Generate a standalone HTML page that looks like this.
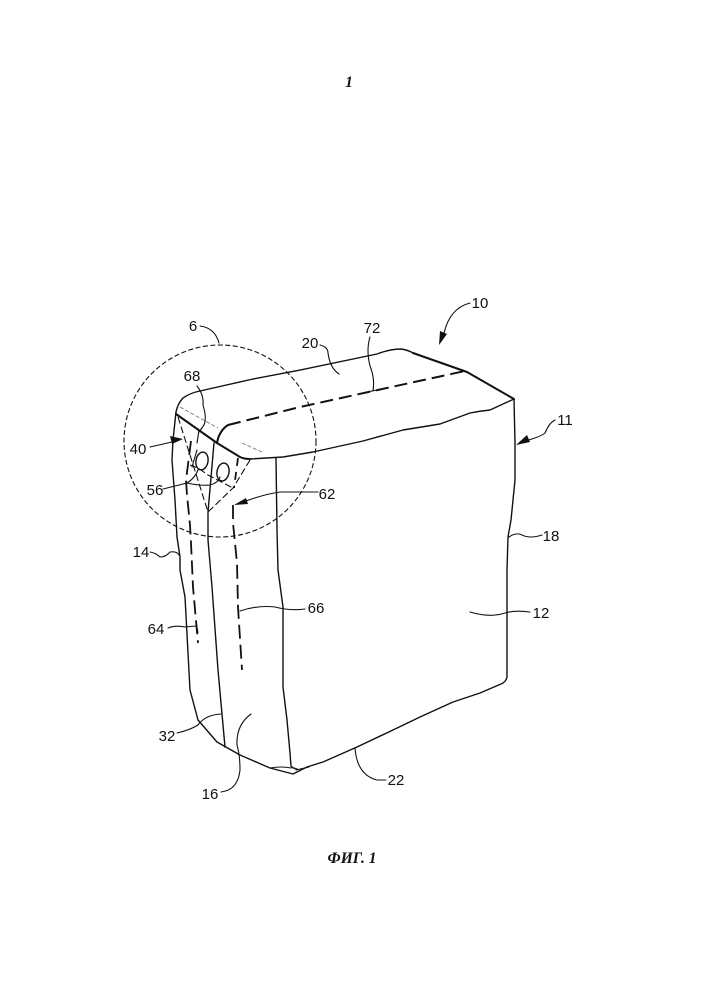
<!DOCTYPE html>
<html><head><meta charset="utf-8"><style>
html,body{margin:0;padding:0;background:#fff}
svg{display:block}
text{font-family:"Liberation Sans",sans-serif;font-size:15px;fill:#111;text-anchor:middle}
.t{font-family:"Liberation Serif",serif;font-style:italic;font-weight:bold;font-size:15.5px}
path{fill:none;stroke:#111;stroke-width:1.2;stroke-linejoin:round;stroke-linecap:round}
.o{stroke-width:1.4}
.b{stroke-width:2}
.d{stroke-width:2;stroke-dasharray:13 6;stroke-linecap:butt}
.c{stroke-width:1.1;stroke-dasharray:5 2.5;stroke-linecap:butt}
.s{stroke-width:1.8;stroke-dasharray:14 6;stroke-linecap:butt}
.f{stroke-width:1.1;stroke-dasharray:7 3;stroke-linecap:butt}
.g{stroke:#777;stroke-width:.9;stroke-dasharray:4 2;stroke-linecap:butt}
.l{stroke-width:1.1}
.a{fill:#111;stroke:none}
</style></head><body>
<svg width="706" height="1000" viewBox="0 0 706 1000" xmlns="http://www.w3.org/2000/svg">
<text class="t" x="349" y="87">1</text>
<text class="t" x="352" y="863">ФИГ. 1</text>

<!-- outlines -->
<path class="o" d="M176 412 Q178 403 183 398 Q190 393 200 391 L253 379 L300 370 L377 354 Q390 349 401 349 Q408 350 413 353"/>
<path class="b" d="M413 353 L467 372 L514 399"/>
<path class="b" d="M176 414 L217 443 L240 457 Q244 459 250 459"/>
<path class="o" d="M250 459 L283 457 L313 452 L363 441 L403 430 L440 424 L470 413 Q480 411 490 410 L514 399"/>
<path class="o" d="M514 399 L515 443 L515 480 L511 520 L508 537 L507 570 L507 630 L507 677 Q506 682 501 684 L480 693 L453 702 L420 717 L393 730 L357 747 L323 762 L307 767 L293 774 L270 768 L240 755 L217 742 L198 720 L190 690 L188 653 L185 597 L180 570 L180 557 L177 537 L175 500 L172 460 L173 440 L176 412"/>
<path class="o" d="M214 443 L208 512 L208 540 L212 587 L218 670 L225 747"/>
<path class="o" d="M276 458 L277 530 L278 570 L283 607 L283 687 L287 720 L290 753 L291 766 Q292 768 297 769"/>
<path class="l" d="M270 768 Q282 766 291 768 M296 770 L309 767"/>

<!-- dashed -->
<path class="b" d="M217 443 Q219 431 228 425"/>
<path class="d" d="M228 425 L300 407 L373 391 L465 371"/>
<path class="s" d="M191 441 L186 480 L187 495 L190 525 L191 543 L193 587 L198 643"/>
<path class="s" d="M233 505 L233 523 L237 563 L238 607 L242 670"/>
<path class="s" style="stroke-dasharray:8 6" d="M238 458 L234 488"/>
<path class="l" d="M199 430 L197 443 M197 450 L192 467"/>

<!-- inner corner fold lines -->
<path class="f" d="M178 417 L208 512 L233 488 L250 460"/>
<path class="f" d="M190 465 L198 468 L208 475 L233 488"/>
<path class="g" d="M180 407 L218 428 M242 443 L262 452"/>
<ellipse cx="202" cy="461" rx="6" ry="9" transform="rotate(10 202 461)" fill="none" stroke="#111" stroke-width="1.4"/>
<ellipse cx="223" cy="472" rx="6" ry="9" transform="rotate(10 223 472)" fill="none" stroke="#111" stroke-width="1.4"/>

<!-- detail circle -->
<circle class="c" cx="220" cy="441" r="96" fill="none" stroke="#111"/>

<!-- leaders -->
<path class="l" d="M200 326 Q215 328 219 343"/>
<path class="l" d="M197 386 Q204 395 203 405 Q207 418 204 425 L199 432"/>
<path class="l" d="M320 345 Q328 347 328 353 Q330 368 339 374"/>
<path class="l" d="M370 337 Q366 350 370 366 Q375 378 373 391"/>
<path class="l" d="M367 392 L377 390"/>
<path class="l" d="M470 303 Q450 308 444 333"/>
<path class="a" d="M439 345 L440 331 L447 334 Z"/>
<path class="l" d="M555 420 Q549 423 545 433 Q540 437 525 441"/>
<path class="a" d="M516 445 L527 435 L530 442 Z"/>
<path class="l" d="M150 447 L172 442"/>
<path class="a" d="M183 439 L170 436 L172 444 Z"/>
<path class="l" d="M163 489 L187 483 Q195 478 198 470 M187 483 Q200 486 210 485 Q218 483 220 477"/>
<path class="l" d="M318 492 L280 492 Q265 494 243 502"/>
<path class="a" d="M234 505 L246 498 L248 504 Z"/>
<path class="l" d="M150 552 Q156 553 160 557 Q166 557 170 552 Q177 551 179 555"/>
<path class="l" d="M509 537 Q516 532 522 535 Q530 539 542 535"/>
<path class="l" d="M168 628 Q175 625 185 627 L196 626"/>
<path class="l" d="M196 622 L198 633"/>
<path class="l" d="M305 609 Q290 611 275 607 Q258 605 240 611"/>
<path class="l" d="M530 612 Q515 610 505 613 Q490 618 470 612"/>
<path class="l" d="M177 733 Q190 730 198 725 Q205 715 221 714"/>
<path class="l" d="M221 792 Q238 790 240 770 Q240 755 237 745 Q236 725 251 714"/>
<path class="l" d="M355 748 Q357 775 377 780 L386 780"/>

<!-- labels -->
<text x="193" y="331">6</text>
<text x="192" y="381">68</text>
<text x="310" y="348">20</text>
<text x="372" y="333">72</text>
<text x="480" y="308">10</text>
<text x="565" y="425">11</text>
<text x="138" y="454">40</text>
<text x="155" y="495">56</text>
<text x="327" y="499">62</text>
<text x="141" y="557">14</text>
<text x="551" y="541">18</text>
<text x="156" y="634">64</text>
<text x="316" y="613">66</text>
<text x="541" y="618">12</text>
<text x="167" y="741">32</text>
<text x="210" y="799">16</text>
<text x="396" y="785">22</text>
</svg>
</body></html>
